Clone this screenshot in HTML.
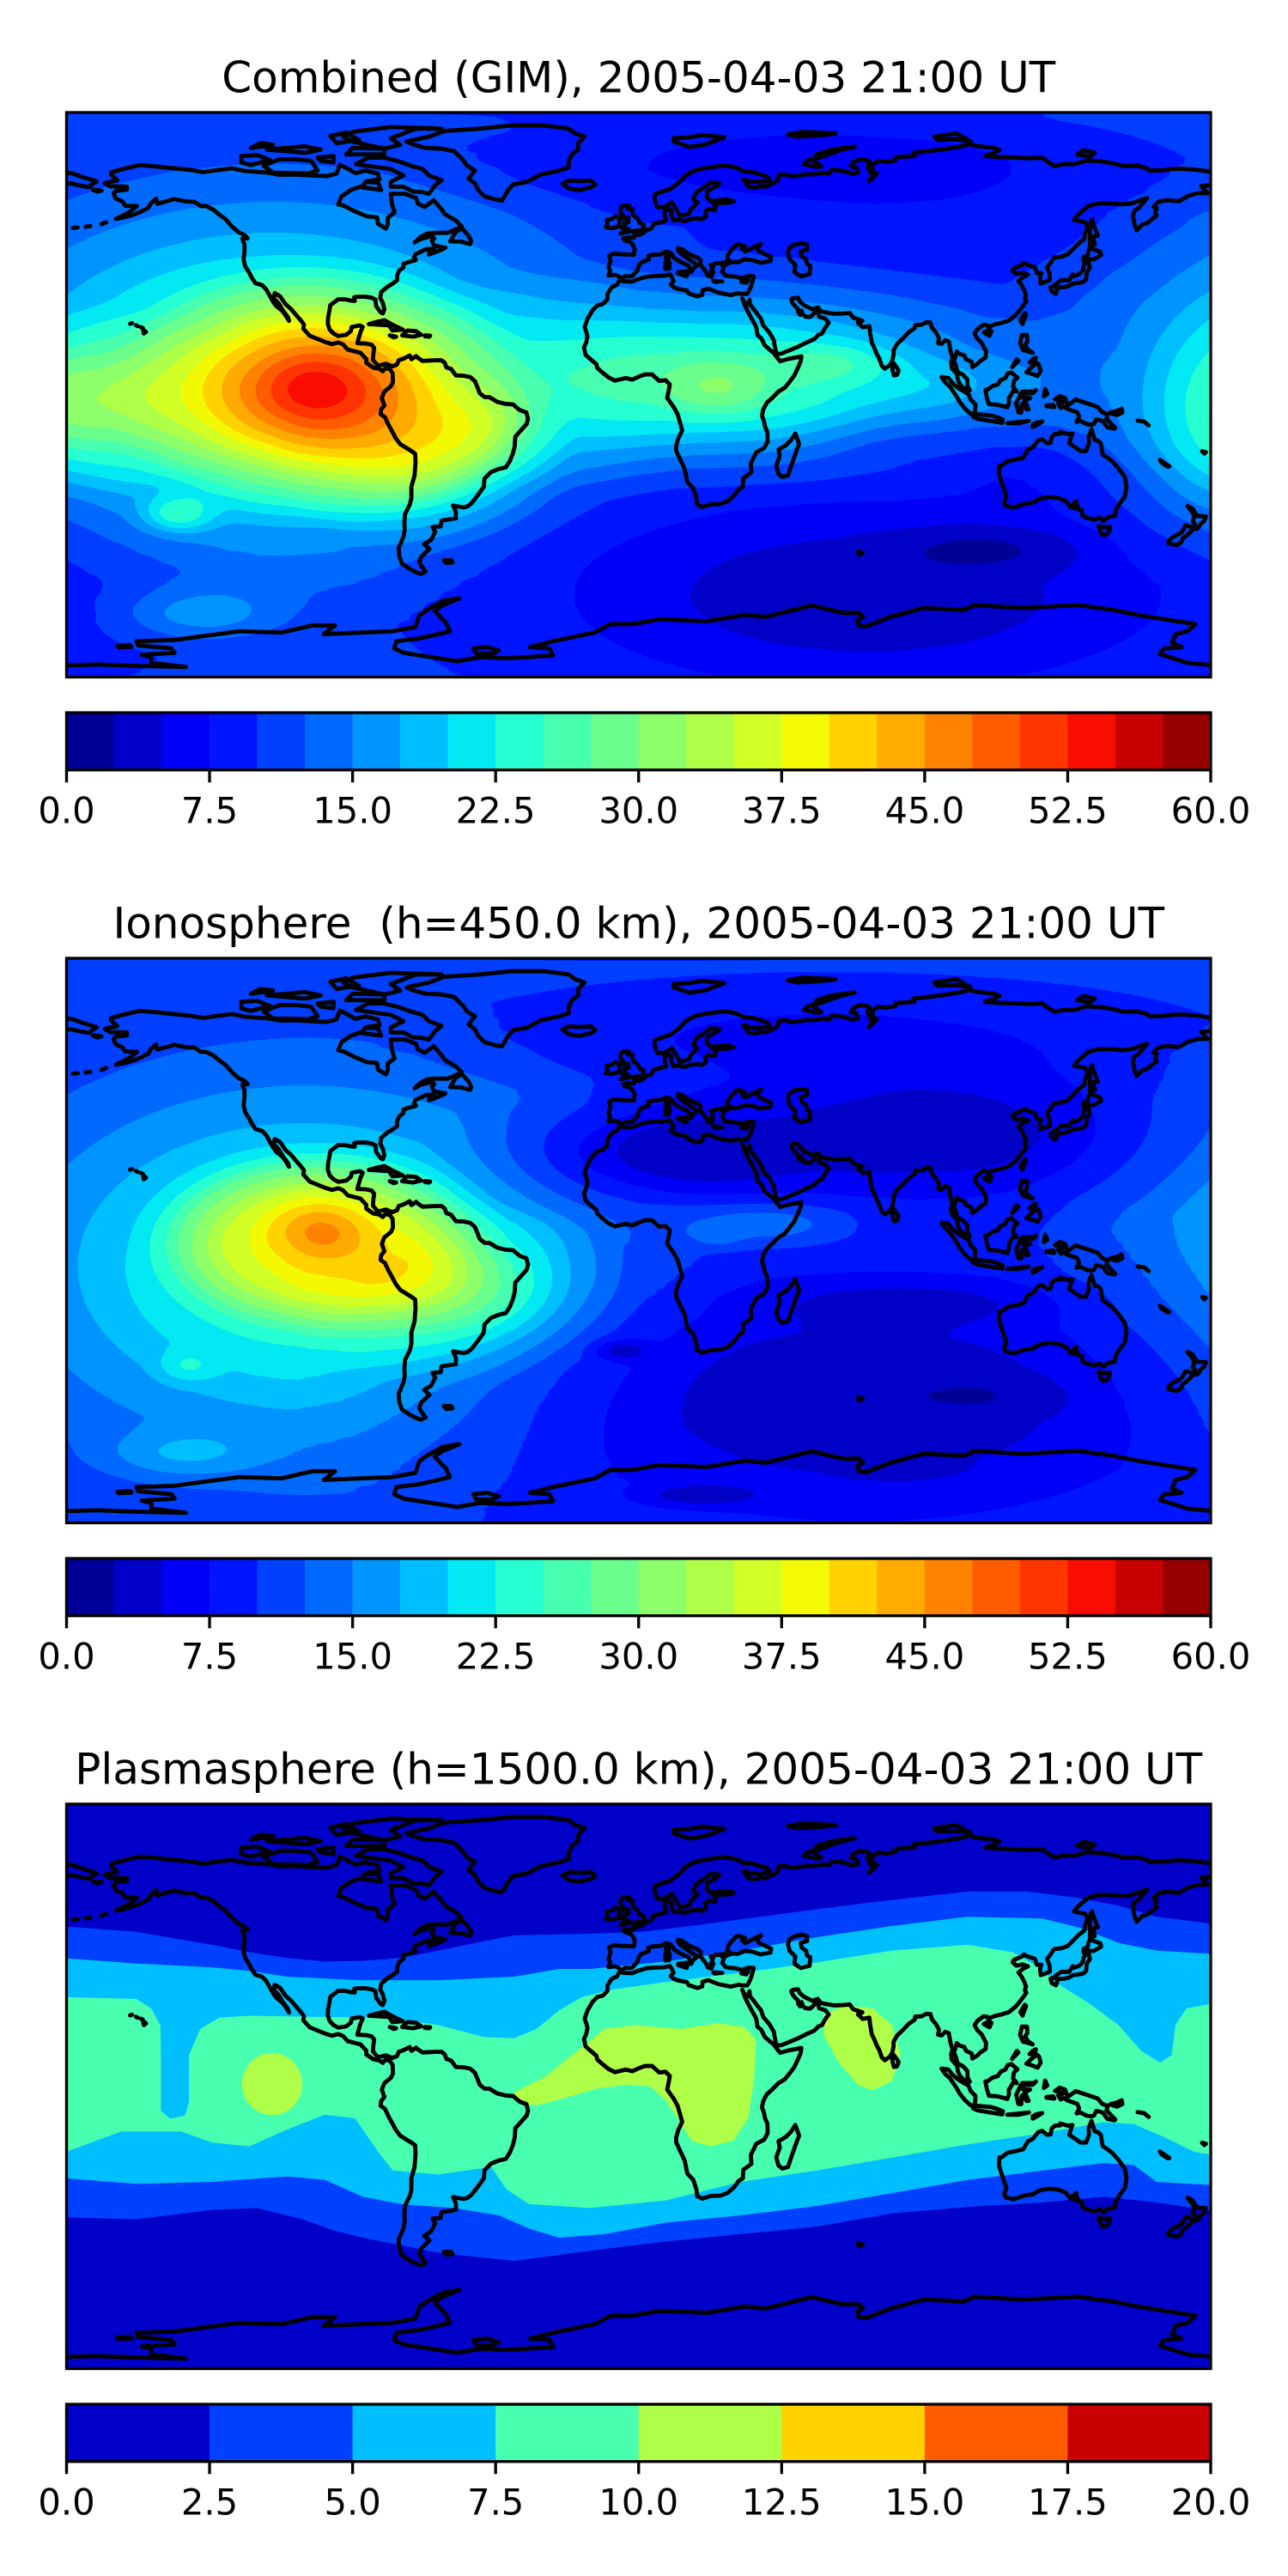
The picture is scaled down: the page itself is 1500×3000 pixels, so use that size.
<!DOCTYPE html>
<html>
<head>
<meta charset="utf-8">
<style>
html,body{margin:0;padding:0;background:#fff;}
svg{display:block;}
text{font-family:"DejaVu Sans","Liberation Sans",sans-serif;fill:#000;}
</style>
</head>
<body>
<svg width="1500" height="3000" viewBox="0 0 1500 3000" xmlns="http://www.w3.org/2000/svg" xmlns:xlink="http://www.w3.org/1999/xlink">
<defs>
<radialGradient id="gw" cx="0.5" cy="0.5" r="0.5">
<stop offset="0" stop-color="#fff" stop-opacity="1"/>
<stop offset="0.1" stop-color="#fff" stop-opacity="0.969"/>
<stop offset="0.2" stop-color="#fff" stop-opacity="0.8825"/>
<stop offset="0.3" stop-color="#fff" stop-opacity="0.7548"/>
<stop offset="0.4" stop-color="#fff" stop-opacity="0.6065"/>
<stop offset="0.5" stop-color="#fff" stop-opacity="0.4578"/>
<stop offset="0.6" stop-color="#fff" stop-opacity="0.3247"/>
<stop offset="0.7" stop-color="#fff" stop-opacity="0.2163"/>
<stop offset="0.8" stop-color="#fff" stop-opacity="0.1353"/>
<stop offset="0.9" stop-color="#fff" stop-opacity="0.05"/>
<stop offset="1" stop-color="#fff" stop-opacity="0"/>
</radialGradient>
<radialGradient id="gk" cx="0.5" cy="0.5" r="0.5">
<stop offset="0" stop-color="#000" stop-opacity="1"/>
<stop offset="0.1" stop-color="#000" stop-opacity="0.969"/>
<stop offset="0.2" stop-color="#000" stop-opacity="0.8825"/>
<stop offset="0.3" stop-color="#000" stop-opacity="0.7548"/>
<stop offset="0.4" stop-color="#000" stop-opacity="0.6065"/>
<stop offset="0.5" stop-color="#000" stop-opacity="0.4578"/>
<stop offset="0.6" stop-color="#000" stop-opacity="0.3247"/>
<stop offset="0.7" stop-color="#000" stop-opacity="0.2163"/>
<stop offset="0.8" stop-color="#000" stop-opacity="0.1353"/>
<stop offset="0.9" stop-color="#000" stop-opacity="0.05"/>
<stop offset="1" stop-color="#000" stop-opacity="0"/>
</radialGradient>
<radialGradient id="gf" cx="0.5" cy="0.5" r="0.5">
<stop offset="0" stop-color="#fff" stop-opacity="1"/>
<stop offset="0.3" stop-color="#fff" stop-opacity="0.95"/>
<stop offset="0.5" stop-color="#fff" stop-opacity="0.8"/>
<stop offset="0.7" stop-color="#fff" stop-opacity="0.45"/>
<stop offset="0.85" stop-color="#fff" stop-opacity="0.15"/>
<stop offset="1" stop-color="#fff" stop-opacity="0"/>
</radialGradient>
<filter id="jet" filterUnits="userSpaceOnUse" x="-700" y="-360" width="1400" height="720" color-interpolation-filters="sRGB">
<feGaussianBlur stdDeviation="4" edgeMode="duplicate"/>
<feComponentTransfer>
<feFuncR type="discrete" tableValues="0 0 0 0 0 0 0 0 0.0134 0.148 0.282 0.417 0.551 0.685 0.82 0.954 1 1 1 1 1 0.973 0.784 0.595"/>
<feFuncG type="discrete" tableValues="0 0 0 0.0833 0.25 0.4167 0.583 0.75 0.917 1 1 1 1 1 1 0.978 0.824 0.67 0.515 0.361 0.207 0.0525 0 0"/>
<feFuncB type="discrete" tableValues="0.595 0.784 0.973 1 1 1 1 1 0.954 0.82 0.685 0.551 0.417 0.282 0.148 0.0134 0 0 0 0 0 0 0 0"/>
</feComponentTransfer>
</filter>
<clipPath id="mclip"><rect x="-666.25" y="-328.75" width="1332.5" height="657.5"/></clipPath>

<g id="coast" fill="none" stroke="#000" stroke-width="1.3" stroke-linejoin="round" stroke-linecap="round">
<polyline points="-166,68.9 -163,69.8 -157,71.2 -152,70.8 -146,70.2 -141,69.7 -137,69 -133,69.6 -128,70.2 -124,69.4 -117,68.9 -113,68.2 -108,68.3 -103,68 -98,67.8 -95,68.6 -94,71.3 -91,69.8 -89,68.7 -86,69.5 -82,68.5 -81.5,66.8 -85.5,66.2 -87,64.7 -90.5,63.5 -93.5,61.5 -94.5,59 -93,58.7 -90,57.2 -85.5,55.3 -82.3,55 -82,53 -79.5,51.5 -78.9,53 -79,54.8 -76.8,56.5 -77.6,59 -78,62.3 -73.5,62.3 -70,61 -69.5,59.3 -67.3,58.2 -64.5,60.3 -62,57.5 -61,56 -57.5,54 -55.7,52.2 -57.5,51.3 -60,50.2 -64.5,50.2 -66.5,50 -68.5,49 -70.5,47.2 -68.5,48.3 -65,49.2 -64.3,48.5 -65,47.8 -64.8,47 -64.2,46.2 -61.5,45.7 -60.8,45.6 -62,45 -64,44.2 -66,43.5 -65.8,44.6 -64.3,45.3 -67,45.1 -68.8,44.2 -70.2,43.6 -70.7,42.5 -70,41.8 -71.5,41.4 -74,40.6 -74,39.5 -75.3,38.5 -76,37 -76,35.5 -77.5,34.4 -79,33.5 -81,31.8 -81.3,30 -80.5,28.5 -80,26.5 -80.5,25.2 -81.2,25.6 -82.6,27.5 -82.8,29.5 -84,30.1 -86,30.4 -88.5,30.4 -89.5,30.2 -89.3,29.1 -90.5,29.2 -92.5,29.6 -94.5,29.6 -97,27.8 -97.3,26 -97.7,24 -97.8,22 -97.2,20.2 -96,19 -94.5,18.2 -92,18.6 -90.5,19.8 -90.3,21 -87.8,21.5 -86.8,21 -87.5,19.5 -88,17.8 -88.5,16 -86,15.9 -84,15.5 -83.2,14.5 -83.5,12.5 -83.6,10.8 -82,9 -79.5,9.6 -77.5,8.8 -76,9.4 -75.5,10.7 -74,11.2 -72,12.2 -71.5,11 -70,12 -69.5,11.5 -68,10.5 -66,10.6 -64,10.7 -62,10.7 -61,9.9 -60.5,8.5 -59,8 -57.5,6 -55,5.9 -53,5.5 -51.5,4.2 -50.5,1.8 -50,0.5 -48.5,-0.7 -47,-0.7 -44.5,-2.2 -42,-2.8 -39.5,-3 -37.5,-4.7 -35.3,-5.5 -34.8,-7.5 -35.2,-9 -37,-11 -38.8,-13 -39,-16 -39.5,-18 -40.5,-20.5 -41.8,-22.5 -44,-23 -46.5,-24 -48.5,-26 -48.7,-28.5 -50.5,-31 -52.5,-33.5 -53.7,-34.5 -55,-34.9 -57,-34.6 -58.4,-34.3 -57.5,-36.3 -57.5,-38.3 -62,-39 -62.3,-40.8 -64.9,-41 -64,-42.5 -65.3,-45 -67.5,-46.3 -65.8,-47.8 -68.4,-50.2 -69,-51.8 -68.4,-53 -67,-54.8 -68.5,-55.5 -70,-55 -72,-54 -74.5,-52.3 -75.3,-50 -75.5,-47.5 -74,-44 -73.6,-41.8 -73.7,-39.5 -73.5,-37 -72,-34 -71.5,-32 -71.5,-28.5 -70.5,-25 -70.2,-21 -70.3,-18.3 -71.4,-17.5 -75,-15.3 -76.4,-13.5 -77.2,-12 -78.6,-9.5 -79.8,-7 -81.2,-6 -81,-4.5 -80,-3.3 -80.8,-1 -80,1 -79,1.8 -77.9,2.7 -77.3,4 -77.4,6.7 -78,7.5 -78.4,8 -79.8,8.2 -80.5,7.3 -81.7,8.1 -83.5,8.4 -85.7,9.9 -85.7,11.1 -87.5,13 -89.5,13.5 -91.5,14 -93,15.6 -94.5,16.2 -96.5,15.7 -98.5,16.3 -101,17.3 -103.5,18.3 -105.5,20.5 -105.3,21.8 -106.5,23.3 -108,25 -109.3,26.5 -111,28 -112.8,30.5 -114.5,31.5 -114.8,30 -113,28 -112.2,26.5 -110.3,24 -110,22.9 -111,24.5 -112,25.9 -114,27.5 -115,28.8 -116.5,31.5 -117.2,32.7 -118.5,34 -120.6,34.6 -121.9,36.6 -122.5,37.8 -123.8,39.8 -124.3,42 -124,44.5 -124,46.5 -124.7,48.4 -123,48.5 -124,49.5 -126,50.5 -127.8,52 -130,54.5 -131.5,55.5 -133.7,57.3 -136,58.5 -137.8,58.5 -139.7,59.8 -143,60 -146,60.7 -148.5,60 -151.5,59.2 -151.8,60.8 -153.5,59.3 -154.2,58 -156.5,56.8 -159,55.8 -162,55 -164.5,54.5 -162,55.7 -160,56.8 -157.8,58.5 -161.5,58.6 -162.5,60 -164.5,60.8 -165.2,62.5 -164.5,63.2 -161,63.6 -161,64.5 -163.8,64.6 -166.3,64.6 -168,65.6 -164,66.5 -166,68.3 -166,68.9"/>
<polyline points="-73,78.5 -66,80 -61,81.8 -50,82.5 -40,83.5 -30,83.5 -22,82.5 -20,81 -17,80 -19,78 -19,76 -21,74.5 -22,72.5 -22,70.5 -25,69.5 -31,68.2 -35,66 -39.5,65.2 -41,63.5 -43,60.2 -45,60.5 -48.5,61.5 -50.5,63.5 -51.5,65.5 -53.5,67 -51.5,69.5 -54,71 -55,72.5 -58,75.5 -62,76.3 -67,76.5 -71,77.6 -73,78.5"/>
<polyline points="-62,66.5 -64,65 -66,62.3 -68,62.8 -71,63 -74,64.5 -78,64.5 -78,66 -74,68 -78,70 -82,70.5 -89,71.5 -85,73.5 -80,73.5 -76,72.5 -71,70.8 -68,70 -66,68 -62,66.5"/>
<polyline points="-118,71 -115,68.8 -110,68.8 -104,68.6 -101,69.5 -103,72.5 -108,73 -113,73 -118,71"/>
<polyline points="-125,72 -122,71.2 -116,72.8 -120,74.3 -125,74 -125,72"/>
<polyline points="-90,78.5 -80,76.3 -75,77.5 -78,79.5 -70,82.5 -62,82.5 -78,83 -90,81.5 -93,80 -90,78.5"/>
<polyline points="-92,74.5 -80,74.5 -80,76.3 -90,76.5 -92,74.5"/>
<polyline points="-100,72.5 -96,72 -96,74 -101,73.5 -100,72.5"/>
<polyline points="-117,76 -105,75 -100,76 -105,77 -117,76"/>
<polyline points="-95,78 -88,79 -92,81.3 -97,80.2 -95,78"/>
<polyline points="-87,64.3 -81,63.5 -82,65.8 -86,66 -87,64.3"/>
<polyline points="-122,76.5 -115,77.5 -119,78 -122,76.5"/>
<polyline points="-59.3,47.6 -56,47.5 -53,46.7 -52.7,47.7 -53.5,49.3 -55.6,51.6 -57.5,50.5 -59.3,47.6"/>
<polyline points="-84.9,21.9 -82,22.7 -80,23.1 -77,21.5 -74.2,20.2 -77.5,19.9 -78.5,21.5 -81.5,21.7 -84.9,21.9"/>
<polyline points="-74.4,18.4 -72.8,19.9 -70,19.7 -68.4,18.6 -71,18 -74.4,18.4"/>
<polyline points="-78.3,18.4 -76.3,18 -77.1,17.8 -78.3,18.4"/>
<polyline points="-67.2,18.4 -65.6,18.3 -65.9,18 -67.2,18.1"/>
<polyline points="-160,22 -159.4,22.2"/>
<polyline points="-158.2,21.6 -157.7,21.3"/>
<polyline points="-156.7,21 -156,20.7"/>
<polyline points="-155.9,20.2 -155,19.5 -155.7,19 -155.9,20.2"/>
<polyline points="-178,51.7 -176.5,51.9"/>
<polyline points="-174,52.1 -172.5,52.3"/>
<polyline points="-169,52.9 -167.5,53.5"/>
<polyline points="-171.8,63.6 -169,63.3 -170.5,63 -171.8,63.6"/>
<polyline points="-181,69 -178,68.6 -175,67.5 -172,66.6 -170.5,66.1 -172,65.2 -173,64.4 -175.5,64.8 -178.5,65.5 -181,65.3"/>
<polyline points="-61.3,-51.3 -59,-51.3 -58.5,-52 -60.5,-52.2 -61.3,-51.3"/>
<polyline points="-9.5,37 -8.9,38.5 -9.5,39.5 -8.8,41.5 -9.3,43 -8,43.7 -4,43.5 -1.5,43.4 -1.2,45 -1.8,46.5 -2.5,47.3 -4.5,47.9 -4.8,48.5 -3,48.8 -1.5,48.7 -1.3,49.7 0.2,49.5 1.6,50.2 2.5,51.1 4,51.5 4.8,53 7,53.5 8.7,54 8.2,55.5 8.2,57 10,57.6 10.5,56.5 10.2,55.8 10.8,54.6 11,54 12.5,54.3 14.3,53.8 16.5,54.5 18.5,54.7 19.8,54.4 21.2,55.2 21,56.8 22,57.6 24,57.2 24.3,58.4 23.5,59.3 28,59.5 30,60 28,60.5 26,60.4 22.8,60 21.5,61 21.5,63 25,65 25.4,65.6 22.5,65.8 21,64.5 18.5,63 17.5,61.5 17.2,60.6 18.5,59.6 16.5,57.5 15.8,56.1 13,55.4 12.5,56.3 11.8,57.6 11,58.9 10.5,59.6 9.5,59 8,58.2 6,58.1 5.5,59 5,61 5.2,62.2 7,62.8 10,63.8 11.5,64.9 13,66 14.5,67.7 16,68.7 18,69.6 20,70.1 23.5,70.6 26,71 28.5,70.9 31,70.3 33,69.3 36,69 40.5,67.6 41.3,66.4 38,66 35,66.1 33,66.8 34.5,64.5 37,64.2 38,64.7 40,64.5 43.5,66.2 44.2,68.2 46,68.3 48.5,67.7 53,68.4 55,68.3 58,68.8 60,68.6 60.8,69.8 65,69.3 67,68.5 69,68.9 68.5,70.5 66.8,70.8 67.5,72 69.2,72.9 71.5,72.8 72.8,72.2 72,71 72.8,69 73.6,68.4 73,67 72.5,66.2 74,67.6 75,68.7 73.8,69.1 73.5,71.3 75.5,72.5 78,72.2 80.8,72.7 81,73.6 86.8,74 86.5,75 91,75.5 96,76.1 101,76.9 104,77.7 107,77 111.5,76.6 113.5,75.9 112,75 109,74 113,73.7 118.5,73.5 123,73.3 127,73.5 129,72 131,70.9 133.5,71.5 137,71.5 141,72.6 146,72.3 150,71.6 152.5,70.9 157,71 160,70.2 160.8,69.5 165,69.6 168,70 170.5,70.1 175,69.8 178,69.4 181,69"/>
<polyline points="181,65.3 178.5,64.8 177,64.7 179,62.5 176,62.5 173,61.7 170,60 166,60.3 163.5,59.8 162,58.3 163,57.8 162.5,56.5 163,55.5 161.8,54.7 160,53.2 158.5,52.8 156.7,51 156,53 155.5,55.5 156,57 157.5,58 160,61 155,59.3 152,59 149,59.3 144.5,59.3 141.5,58.5 138.5,56 137,54.2 140.5,53.5 141.3,52 140.5,50 140.2,48.3 138.5,47 136.5,45 135,43.5 133,42.8 131,42.6 130.5,42.3 129.7,41 128.5,39.5 129.3,37.5 129.4,35.6 128,35 126.5,34.5 126.3,36.5 126.7,37.7 125.3,37.7 124.7,39.5 122,40.4 121.2,40.9 120.5,40.2 119.5,39.8 118,39.1 117.7,38.4 118.9,37.4 120.8,37.8 122.5,37.2 121,36.5 119.5,35.3 120.3,34.3 121.3,32.5 121.9,30.9 121.5,29.9 122,29 120.5,27 119.5,25.7 118.5,24.6 116.5,23 114.2,22.3 112,21.8 110.5,21.2 110.2,20.3 109.8,21.5 108.5,21.7 106.6,20.3 105.7,19 106.5,17.5 108,16 109.3,13.5 109.2,11.6 107.5,10.5 106.5,9.5 105,8.6 104.8,10.2 103,11 102.5,12.2 100.9,12.7 100.1,13.4 99.2,10.3 99.8,9.2 100.3,7.2 101,6.8 102.1,6.2 103.4,4.8 103.5,2.7 104.2,1.4 103.5,1.3 102,2.3 101,3.4 100.4,4.8 100.2,6.4 98.5,8.3 98.3,10 98.8,11.5 98.2,13.2 97.6,16.5 96.5,16.9 95.3,15.8 94.2,16 94.5,17.6 93.5,19.4 92.3,20.7 91.8,22.4 90.5,22.5 89,21.7 87,21.6 86.9,20.7 85,19.4 83.3,17.6 82.2,16.6 81.2,15.6 80.2,13.8 80.2,12.4 79.8,10.4 79,9.2 77.5,8.1 76.5,9 75.7,11.3 74.9,12.7 74.1,14.7 73.4,16 72.8,19.3 72.6,21.3 72,21.2 70.5,20.9 69,22.3 70.4,22.9 68.8,23.5 67.5,23.9 66.4,25.4 64.5,25.2 61.5,25.1 58.5,25.6 57.3,25.9 56.4,27.1 54.7,26.5 52,27.8 50.8,28.8 50.1,30.1 48.5,29.9 48,29.5 48.4,28.5 49.3,27.4 50.1,26.7 50.2,25.6 50.8,24.8 51.3,26.1 51.6,25 52.5,24.2 54,24.1 55.4,25.4 56.3,26.2 56.8,24.2 58.7,23.6 59.8,22.3 58.5,20.5 57.7,19 56.6,18.6 55.3,17.3 52.2,15.9 49.5,14.6 48,14 45,12.8 43.4,12.6 42.7,15.7 42.6,16.8 41.2,19.2 39.2,21.5 38.5,23.6 37.5,24.8 36,26.8 35,28 34.9,29.5 34.2,27.8 33.5,28.3 32.6,29.9 33.5,27.5 34.5,25.5 35.6,23.5 37,21 37.4,18.5 38.6,17.5 39.7,15.3 41.2,14 42.5,13 43.3,11.9 44.5,10.4 47,11.1 51.2,11.9 51,10.4 50.5,9.2 49,6 47.5,4 46,2.2 44,1 42,-1 40.3,-2.5 39.2,-4.6 38.8,-6.5 39.4,-8 39.8,-10 40.5,-11.5 40.6,-14.5 39.5,-16.5 37,-17.8 35.3,-21.3 35.5,-24 32.9,-25.9 32.8,-28.5 31.5,-29.3 30,-31.3 28,-33 25.6,-33.9 22.5,-34 20,-34.8 18.4,-34 18.2,-32 17.2,-29 15.3,-27 14.5,-23 13.3,-20.5 11.8,-17.3 11.8,-15.8 12.5,-13.5 13.7,-11 12.3,-6.1 11.1,-3.9 9,-1 9.6,2 9.8,3.2 8.5,4.5 6.5,4.3 5,5.6 4.3,6.3 2,6.3 0,5.6 -2,4.7 -4,5.2 -7.5,4.4 -9.5,5.4 -11.4,6.9 -13,8.3 -13.3,9.5 -15,10.9 -16.7,12.4 -17.2,14.7 -16.5,16.2 -16.1,18.1 -16.5,19.6 -17,21 -16,23.7 -14.5,26.2 -13,27.7 -11.3,28.1 -9.8,29.6 -9.8,31.3 -8.5,33.3 -6.8,34.1 -5.9,35.8 -5,35.2 -2,35.1 0,35.9 2.5,36.6 5,36.8 8,36.9 9.8,37.3 10.3,36.7 11,35.2 10.1,34.2 11.1,33.3 12.5,32.8 15.2,32.3 15.7,31.4 18.5,30.5 20,31 20.1,32.4 22,32.9 25,31.7 29,30.9 31.5,31.5 32.3,31.3 34.2,31.3 35,32.8 35.6,34.3 35.9,35.5 36.2,36.7 34.6,36.8 32.5,36.1 30.5,36.6 29,36.7 27.3,37 26.3,38.3 26.8,39.5 26.2,40.3 27.5,40.4 29,41.1 31.2,41.1 33.5,42 36,41.7 38.3,40.9 41.5,41.5 41.7,42.7 38,44.4 37.3,45.3 38.5,46.8 35.5,45.4 33.6,44.4 32.5,45.3 33.5,46 31.7,46.6 30.7,46.5 29.6,45.3 28.7,44.3 28,43 28,41.9 28.9,41.3 26.3,40.9 24,40.7 23.5,40 22.6,40.3 23.3,39.2 22.7,38 23.5,38 22.9,36.5 21.7,36.9 21.1,38.3 19.4,40.3 19.5,41.8 18.5,42.5 16,43.5 15,44.2 13.7,45.1 12.3,45.4 12.5,44.5 13.6,43.5 16,41.9 18.5,40.2 17,39 16.6,38 15.7,38 16.2,39 15.6,40.1 14,40.8 12.6,41.5 11.2,42.4 10.2,43.9 8.7,44.4 6.9,43.5 4.5,43.4 3,43 3.2,41.9 0.8,41 0,39.9 -0.4,38.5 -1.4,37.5 -2.1,36.7 -4.4,36.7 -5.4,36 -6.4,36.8 -7.4,37.2 -8.9,37 -9.5,37"/>
<polyline points="49,46.5 51.5,47 53,46.5 53,45 51,44.5 51.3,43 52.7,42 53,40.5 54,40 53.8,37.4 51,36.7 49,38 49.3,40.3 47.5,42 47,44 47.5,45.6 49,46.5"/>
<polyline points="-5.7,50 -3,50.6 1.3,51.1 1.7,52.7 0.3,53.3 -0.2,54.5 -1.6,55.6 -2.1,57.1 -1.8,57.6 -3.5,57.7 -3,58.6 -5,58.6 -5.7,57.5 -5.6,56.3 -4.8,55.4 -5,54.7 -3.2,54.9 -3.2,53.5 -4.6,53.3 -4.1,52.8 -5.2,51.8 -3.2,51.4 -5.7,50"/>
<polyline points="-6,52.2 -6.1,54 -5.6,54.7 -7.3,55.3 -8.5,54.5 -10,54.2 -9.8,53 -10.3,51.9 -8.5,51.6 -6.4,52.2 -6,52.2"/>
<polyline points="-22,64 -24,65.4 -22,66.4 -18,66.2 -15,66.4 -13.6,65.2 -15,64.3 -18.7,63.4 -22,64"/>
<polyline points="11,78.5 16,76.8 21,77.6 27,79.8 20,80.5 16,79.8 11,79.5 11,78.5"/>
<polyline points="52,71.5 56,70.6 57.5,70.8 55,72.5 56,74.5 61,76 68,76.9 63,75.7 57,73.5 53.5,72.8 52,71.5"/>
<polyline points="50,80 58,80.5 62,81 52,81.5 47,80.7 50,80"/>
<polyline points="94,79 100,79.2 104.5,78.5 100,81 93,80 94,79"/>
<polyline points="138,74.5 142,73.8 143.5,75 140,75.8 138,74.5"/>
<polyline points="12.4,38 15.6,38.3 15.1,36.7 12.4,37.6 12.4,38"/>
<polyline points="8.4,41 9.8,40.9 9.6,39.1 8.4,39 8.4,41"/>
<polyline points="8.6,42.9 9.5,42.9 9.4,41.4 8.6,42 8.6,42.9"/>
<polyline points="23.5,35.3 26.3,35.2 24,35 23.5,35.3"/>
<polyline points="32.3,35 34.5,35.6 33.9,34.7 32.3,35"/>
<polyline points="79.8,8.1 80.2,9.8 81.2,8.5 81.8,7.5 81.3,6.2 80.3,6 79.8,8.1"/>
<polyline points="130.9,33.9 132,33.3 134,33.4 135.3,33.7 136.8,34.5 138.5,34.7 139.9,35 140.8,35.8 141,38 142,39.5 141.5,41.4 140.8,41 140,40 139.9,39 139.4,38.1 138.5,37.3 137,36.8 136.6,37.3 135.5,35.5 133,35.5 131.5,34.5 130.9,33.9"/>
<polyline points="130,32 131.3,31.3 131.8,32.8 131,33.9 129.6,33.3 130,32"/>
<polyline points="140,41.5 141.1,41.9 143.2,42 145.5,43.3 145.3,44.3 142,45.5 141.5,44.5 141.3,43.1 140,42.7 140,41.5"/>
<polyline points="142,46 143.5,46.6 143,49 144.5,49.3 143,53 142.7,54.3 142.2,53.5 142,51 142,46"/>
<polyline points="120.1,23 120.8,21.9 121.9,24.9 121.5,25.3 120.1,23"/>
<polyline points="108.6,19.3 110.4,18.3 111,19.7 110.1,20.1 108.6,19.3"/>
<polyline points="120,16 120.6,18.5 122.2,18.5 122.3,16.5 121.6,15.5 122.5,14 124,13 122.5,13.5 121,13.8 120.6,14.5 120,16"/>
<polyline points="122,7 124.3,6.3 125.5,5.8 126.5,7.3 126,9.2 125.4,9.8 123.6,8.5 122,7"/>
<polyline points="123,10 124,11 125,11.5 124.5,10 123,10"/>
<polyline points="117.5,8.5 119.5,10.5 119,11 117.5,8.5"/>
<polyline points="109.6,-1 110.2,-2.9 111.7,-3 113,-3.1 114.5,-3.5 116,-3.9 116.5,-2.5 116.5,-1 117.5,0.5 117.9,1.3 119,1 117.8,2.5 118.1,4.3 119.2,5.3 117.3,6.9 116.1,6.6 115.4,5.2 114,4.6 113,3.2 111.3,2.7 110,1.7 109.1,1.5 109.6,-1"/>
<polyline points="95.3,5.5 97.5,5.2 98.6,3.8 100,2.5 101,1.8 103.8,0.2 104.5,-1.5 106,-3 105.8,-5.8 104.5,-5.9 102.6,-4.2 101,-2.2 100.1,-0.6 99,1 98,2.5 96.5,3.8 95.3,5.5"/>
<polyline points="105.2,-6.8 106.5,-6 108.3,-6.2 110.8,-6.4 112.6,-6.9 114.6,-7.7 114.4,-8.7 112,-8.3 110,-8 106.5,-7.4 105.2,-6.8"/>
<polyline points="119.5,-5.5 120.4,-5.5 120.5,-3 121,-2.6 122,-4.5 122.7,-4.5 121.5,-1.9 123.2,-1 121,-1 120.7,1 122,1 124.5,1 125,1.5 124,0.5 120.2,0.3 119.7,-0.8 118.8,-2.6 119.5,-5.5"/>
<polyline points="124,-9.3 125,-8.7 127,-8.3 125.5,-9.2 124,-10 124,-9.3"/>
<polyline points="116,-8.8 119,-8.5 122.8,-8.1 119.5,-8.8 116,-8.8"/>
<polyline points="131,-1.4 132.5,-0.4 134.2,-1 135,-3.3 137.5,-1.5 141,-2.6 144.5,-3.8 145.8,-5.4 147.6,-6.1 147.2,-7.4 148.7,-9 150,-10.3 149.7,-10.5 147.5,-10.1 146,-8.1 144,-7.6 143.3,-9 142.6,-9.3 141,-9.1 139,-8.1 137.8,-8.4 138.6,-6.8 138,-5.4 135,-4.4 133.7,-3.6 132.8,-4.1 132,-2.8 133.6,-2.2 131.8,-1.6 131,-1.4"/>
<polyline points="127.9,1.8 128.6,0.3 127.5,-0.5 127.9,1.8"/>
<polyline points="128.3,-3.3 130.5,-3.1 130.8,-3.8 128.3,-3.5"/>
<polyline points="148.3,-5.6 150.5,-5 152,-4.3 152.2,-5.5 150.5,-6.3 148.3,-5.6"/>
<polyline points="157,-8 159,-8.3 160.5,-9.5"/>
<polyline points="113.5,-22 114.2,-22 116,-20.6 119,-20 121,-19.5 122.5,-17 124,-16.3 125.7,-14.2 127,-13.8 128.5,-15 129.6,-14.9 130,-13 131,-12.2 132.6,-12.1 132.6,-11.5 135,-12.2 136.5,-12 136,-13.3 135.5,-15 137,-16 139,-17.4 140.8,-17.4 141.7,-15 141.6,-12.9 142.5,-10.7 143.5,-14 144.5,-14.2 145.4,-15 146,-18.5 147.5,-19.5 149,-20.6 150.8,-22.6 153,-25.5 153.5,-28.5 153,-31.5 151.5,-33.5 150.2,-35.5 149.9,-37.5 147.5,-38 146.3,-39.1 145,-38 143.5,-38.8 141,-38.1 139.6,-37.4 139.5,-35.8 138.5,-35.6 138,-34.4 137.5,-35.1 136.8,-35.2 137.8,-33 137,-33.6 135.8,-34.8 134.5,-33 132,-32 129,-31.7 126,-32.3 124,-33.5 121.5,-33.8 118,-35 115.5,-34.4 115,-33.5 115.7,-31.5 115,-29.5 114,-26.5 113.4,-24.5 113.5,-22"/>
<polyline points="144.7,-40.7 146.5,-41.1 148.3,-40.9 148.2,-42 147.3,-43.3 146,-43.5 145.2,-42.2 144.7,-40.7"/>
<polyline points="172.7,-34.5 174.3,-35.3 175.3,-37 176,-37.6 178.5,-37.7 177.9,-39.2 177,-39.8 176,-41.3 175.2,-41.6 174.6,-41.2 175.1,-40 174.3,-39.3 174.8,-38 174.5,-36.8 172.7,-34.5"/>
<polyline points="172.7,-40.5 174.3,-41.3 173.9,-42.3 172.7,-43.4 171.2,-44.5 170.6,-45.9 169.3,-46.6 166.6,-46 167,-45 168.3,-44 170.5,-42.9 171.5,-41.7 172,-40.6 172.7,-40.5"/>
<polyline points="164,-20.2 167,-22.2 166.5,-22.3 164.5,-21 164,-20.2"/>
<polyline points="177.3,-17.5 178.5,-17.8 178,-18.2 177.3,-17.5"/>
<polyline points="49.3,-12 50.5,-15.3 49.8,-17 48,-22 47,-25 45.2,-25.5 44,-24.5 43.3,-22 44.4,-19 44,-17 46.3,-15.7 48,-14 49.3,-12"/>
<polyline points="69,-48.7 70.5,-49 69.5,-49.6 69,-48.7"/>
<polyline points="-181,-83.9 -170,-83.6 -160,-84 -142.4,-84.4 -153.3,-83.1 -153.3,-81.3 -156.3,-80.6 -146,-80 -147,-78.6 -157.5,-77.7 -158,-76.4 -146,-76 -125.6,-73.3 -112.3,-73.7 -102.7,-71.5 -95.5,-71.5 -99.1,-74.2 -77.4,-73.3 -70.2,-72 -69,-68.4 -66.6,-66.7 -61.8,-64 -56.4,-63.1 -61.8,-65.3 -64.2,-67 -60.6,-70.7 -59.4,-73.3 -63,-74.2 -69,-75.5 -76.2,-76.4 -76.9,-78.6 -73.9,-80 -57,-82.6 -49.8,-81.3 -41.4,-81.7 -26.9,-80.8 -28.1,-78.6 -34.2,-78.2 -26.9,-76.4 -13.7,-73.7 -8.9,-71.1 -2.1,-71.1 6.5,-69.6 21.3,-70.2 33.6,-68.2 39.7,-68.9 54.5,-65.3 58.2,-66.2 64.3,-67.6 69.3,-67.6 70.6,-68.9 68.8,-69.8 69.3,-71.5 71.7,-71.8 79.1,-68.9 89.6,-66.1 102.5,-66.7 105.6,-65.2 121,-66.1 138.2,-65.2 149.3,-66.7 157.9,-68.4 175.2,-71.1 172.7,-73.3 169,-74.2 167.8,-76.9 170.8,-78.2 165.3,-78.7 164,-80.4 172.7,-83.1 181,-83.9"/>
<polyline points="-52,-78.6 -47.5,-78.2 -44,-79.3 -46,-80.2 -51,-80.3 -52,-78.6"/>
<polyline points="-164,-77.9 -160,-77.6 -159.5,-78.1 -163.5,-78.3 -164,-77.9"/>
</g>

<g id="cb24">
<rect x="77.5" y="0" width="55.8" height="66.7" fill="#000098"/>
<rect x="133.02" y="0" width="55.8" height="66.7" fill="#0000c8"/>
<rect x="188.54" y="0" width="55.8" height="66.7" fill="#0000f8"/>
<rect x="244.06" y="0" width="55.8" height="66.7" fill="#0015ff"/>
<rect x="299.58" y="0" width="55.8" height="66.7" fill="#0040ff"/>
<rect x="355.1" y="0" width="55.8" height="66.7" fill="#006aff"/>
<rect x="410.63" y="0" width="55.8" height="66.7" fill="#0095ff"/>
<rect x="466.15" y="0" width="55.8" height="66.7" fill="#00bfff"/>
<rect x="521.67" y="0" width="55.8" height="66.7" fill="#03eaf3"/>
<rect x="577.19" y="0" width="55.8" height="66.7" fill="#26ffd1"/>
<rect x="632.71" y="0" width="55.8" height="66.7" fill="#48ffaf"/>
<rect x="688.23" y="0" width="55.8" height="66.7" fill="#6aff8d"/>
<rect x="743.75" y="0" width="55.8" height="66.7" fill="#8dff6a"/>
<rect x="799.27" y="0" width="55.8" height="66.7" fill="#afff48"/>
<rect x="854.79" y="0" width="55.8" height="66.7" fill="#d1ff26"/>
<rect x="910.31" y="0" width="55.8" height="66.7" fill="#f3fa03"/>
<rect x="965.83" y="0" width="55.8" height="66.7" fill="#ffd200"/>
<rect x="1021.35" y="0" width="55.8" height="66.7" fill="#ffab00"/>
<rect x="1076.88" y="0" width="55.8" height="66.7" fill="#ff8300"/>
<rect x="1132.4" y="0" width="55.8" height="66.7" fill="#ff5c00"/>
<rect x="1187.92" y="0" width="55.8" height="66.7" fill="#ff3500"/>
<rect x="1243.44" y="0" width="55.8" height="66.7" fill="#f80d00"/>
<rect x="1298.96" y="0" width="55.8" height="66.7" fill="#c80000"/>
<rect x="1354.48" y="0" width="55.52" height="66.7" fill="#980000"/>
<rect x="77.5" y="0" width="1332.5" height="66.7" fill="none" stroke="#000" stroke-width="3.33"/>
<path d="M77.5,66.7v14.6M244.06,66.7v14.6M410.63,66.7v14.6M577.19,66.7v14.6M743.75,66.7v14.6M910.31,66.7v14.6M1076.88,66.7v14.6M1243.44,66.7v14.6M1410,66.7v14.6" stroke="#000" stroke-width="3.33"/>
</g>
<g id="cb8">
<rect x="77.5" y="0" width="166.8" height="66.7" fill="#0000c8"/>
<rect x="244.06" y="0" width="166.8" height="66.7" fill="#0040ff"/>
<rect x="410.63" y="0" width="166.8" height="66.7" fill="#00bfff"/>
<rect x="577.19" y="0" width="166.8" height="66.7" fill="#48ffaf"/>
<rect x="743.75" y="0" width="166.8" height="66.7" fill="#afff48"/>
<rect x="910.31" y="0" width="166.8" height="66.7" fill="#ffd200"/>
<rect x="1076.88" y="0" width="166.8" height="66.7" fill="#ff5c00"/>
<rect x="1243.44" y="0" width="166.56" height="66.7" fill="#c80000"/>
<rect x="77.5" y="0" width="1332.5" height="66.7" fill="none" stroke="#000" stroke-width="3.33"/>
<path d="M77.5,66.7v14.6M244.06,66.7v14.6M410.63,66.7v14.6M577.19,66.7v14.6M743.75,66.7v14.6M910.31,66.7v14.6M1076.88,66.7v14.6M1243.44,66.7v14.6M1410,66.7v14.6" stroke="#000" stroke-width="3.33"/>
</g>
</defs>

<rect x="0" y="0" width="1500" height="3000" fill="#fff"/>

<!-- ================= PANEL 1 ================= -->
<text x="743.75" y="107.5" font-size="50" text-anchor="middle">Combined (GIM), 2005-04-03 21:00 UT</text>
<g transform="translate(743.75,459.75)">
<g clip-path="url(#mclip)">
<g filter="url(#jet)">
<g transform="scale(3.7014,-3.757)">
<rect x="-190" y="-95" width="380" height="190" fill="#2d2d2d"/>
<ellipse cx="-115" cy="5" rx="140" ry="80" fill="url(#gw)" fill-opacity="0.38"/>
<ellipse cx="245" cy="5" rx="140" ry="80" fill="url(#gw)" fill-opacity="0.38"/>
<ellipse cx="-180" cy="-2" rx="70" ry="32" fill="url(#gw)" fill-opacity="0.3"/>
<ellipse cx="-100" cy="1" rx="70" ry="43" fill="url(#gw)" fill-opacity="0.76"/>
<ellipse cx="-102" cy="2" rx="20" ry="12" fill="url(#gw)" fill-opacity="0.35"/>
<ellipse cx="-68" cy="-20" rx="50" ry="30" fill="url(#gw)" fill-opacity="0.3"/>
<ellipse cx="-48" cy="-10" rx="30" ry="22" fill="url(#gw)" fill-opacity="0.18"/>
<ellipse cx="25" cy="5" rx="130" ry="40" fill="url(#gw)" fill-opacity="0.33"/>
<ellipse cx="25" cy="2" rx="25" ry="14" fill="url(#gw)" fill-opacity="0.12"/>
<ellipse cx="62" cy="10" rx="30" ry="10" fill="url(#gw)" fill-opacity="0.1"/>
<ellipse cx="98" cy="3" rx="35" ry="14" fill="url(#gw)" fill-opacity="0.06"/>
<ellipse cx="185" cy="-8" rx="38" ry="45" fill="url(#gw)" fill-opacity="0.15"/>
<ellipse cx="-145" cy="-37" rx="18" ry="9" fill="url(#gw)" fill-opacity="0.2"/>
<ellipse cx="-140" cy="-68" rx="45" ry="14" fill="url(#gw)" fill-opacity="0.13"/>
<ellipse cx="0" cy="97" rx="220" ry="16" fill="url(#gk)" fill-opacity="0.25"/>
<ellipse cx="54" cy="72" rx="140" ry="22" fill="url(#gk)" fill-opacity="0.45"/>
<ellipse cx="90" cy="55" rx="120" ry="35" fill="url(#gk)" fill-opacity="0.2"/>
<ellipse cx="125" cy="-25" rx="50" ry="25" fill="url(#gk)" fill-opacity="0.2"/>
<ellipse cx="80" cy="-15" rx="40" ry="15" fill="url(#gk)" fill-opacity="0.15"/>
<ellipse cx="72" cy="-62" rx="175" ry="55" fill="url(#gk)" fill-opacity="0.72"/>
<ellipse cx="-288" cy="-62" rx="175" ry="55" fill="url(#gk)" fill-opacity="0.72"/>
<ellipse cx="108" cy="-48" rx="50" ry="12" fill="url(#gk)" fill-opacity="0.7"/>
</g>
</g>
<g transform="scale(3.7014,-3.757)"><use xlink:href="#coast" href="#coast"/></g>
</g>
</g>
<rect x="77.5" y="131" width="1332.5" height="657.5" fill="none" stroke="#000" stroke-width="3.33"/>
<use xlink:href="#cb24" href="#cb24" x="0" y="830"/>
<g font-size="41.67" text-anchor="middle">
<text x="77.5" y="958.5">0.0</text><text x="244.06" y="958.5">7.5</text><text x="410.63" y="958.5">15.0</text><text x="577.19" y="958.5">22.5</text><text x="743.75" y="958.5">30.0</text><text x="910.31" y="958.5">37.5</text><text x="1076.88" y="958.5">45.0</text><text x="1243.44" y="958.5">52.5</text><text x="1410" y="958.5">60.0</text>
</g>

<!-- ================= PANEL 2 ================= -->
<text x="743.75" y="1092.5" font-size="50" text-anchor="middle">Ionosphere&#160; (h=450.0 km), 2005-04-03 21:00 UT</text>
<g transform="translate(743.75,1444.75)">
<g clip-path="url(#mclip)">
<g filter="url(#jet)">
<g transform="scale(3.7014,-3.757)">
<rect x="-190" y="-95" width="380" height="190" fill="#2c2c2c"/>
<ellipse cx="-105" cy="-8" rx="145" ry="90" fill="url(#gw)" fill-opacity="0.31"/>
<ellipse cx="255" cy="-8" rx="145" ry="90" fill="url(#gw)" fill-opacity="0.31"/>
<ellipse cx="-100" cy="0" rx="60" ry="32" fill="url(#gf)" fill-opacity="0.4"/>
<ellipse cx="-100" cy="3" rx="25" ry="15" fill="url(#gw)" fill-opacity="0.35"/>
<ellipse cx="-58" cy="-16" rx="60" ry="30" fill="url(#gw)" fill-opacity="0.32"/>
<ellipse cx="40" cy="6" rx="45" ry="12" fill="url(#gw)" fill-opacity="0.13"/>
<ellipse cx="25" cy="1" rx="12" ry="5" fill="url(#gw)" fill-opacity="0.06"/>
<ellipse cx="-142" cy="-39" rx="15" ry="8" fill="url(#gw)" fill-opacity="0.1"/>
<ellipse cx="-143" cy="-66" rx="40" ry="12" fill="url(#gw)" fill-opacity="0.1"/>
<ellipse cx="0" cy="97" rx="220" ry="14" fill="url(#gk)" fill-opacity="0.2"/>
<ellipse cx="60" cy="62" rx="150" ry="25" fill="url(#gk)" fill-opacity="0.4"/>
<ellipse cx="12" cy="27" rx="80" ry="26" fill="url(#gk)" fill-opacity="0.72"/>
<ellipse cx="92" cy="33" rx="105" ry="36" fill="url(#gk)" fill-opacity="0.72"/>
<ellipse cx="70" cy="-50" rx="180" ry="68" fill="url(#gk)" fill-opacity="0.72"/>
<ellipse cx="85" cy="-19" rx="75" ry="12" fill="url(#gk)" fill-opacity="0.45"/>
<ellipse cx="108" cy="-48" rx="40" ry="10" fill="url(#gk)" fill-opacity="0.45"/>
<ellipse cx="-5" cy="-34" rx="15" ry="5" fill="url(#gk)" fill-opacity="0.65"/>
<ellipse cx="20" cy="-79" rx="30" ry="5" fill="url(#gk)" fill-opacity="0.68"/>
<ellipse cx="82" cy="-70" rx="28" ry="6" fill="url(#gk)" fill-opacity="0.5"/>
</g>
</g>
<g transform="scale(3.7014,-3.757)"><use xlink:href="#coast" href="#coast"/></g>
</g>
</g>
<rect x="77.5" y="1116" width="1332.5" height="657.5" fill="none" stroke="#000" stroke-width="3.33"/>
<use xlink:href="#cb24" href="#cb24" x="0" y="1815"/>
<g font-size="41.67" text-anchor="middle">
<text x="77.5" y="1943.5">0.0</text><text x="244.06" y="1943.5">7.5</text><text x="410.63" y="1943.5">15.0</text><text x="577.19" y="1943.5">22.5</text><text x="743.75" y="1943.5">30.0</text><text x="910.31" y="1943.5">37.5</text><text x="1076.88" y="1943.5">45.0</text><text x="1243.44" y="1943.5">52.5</text><text x="1410" y="1943.5">60.0</text>
</g>

<!-- ================= PANEL 3 ================= -->
<text x="743.75" y="2077.5" font-size="50" text-anchor="middle">Plasmasphere (h=1500.0 km), 2005-04-03 21:00 UT</text>
<g transform="translate(743.75,2429.75)">
<g clip-path="url(#mclip)">
<g transform="scale(3.7014,-3.757)">
<rect x="-190" y="-95" width="380" height="190" fill="#0000c8"/>
<polygon fill="#0040ff" points="-182,49.7 -158.1,47.9 -134.3,43.9 -122.5,41.6 -110.6,39.8 -98.7,38.7 -86.8,38.9 -74.9,39.8 -63,42.1 -48.7,45 -39.2,46.8 -15.4,47.3 1.2,47.9 20.2,50.2 55.9,54.9 79.7,57.8 103.5,60.4 122.5,60.4 139.1,58.3 151,56 162.9,52.6 182,50.2 182,-38.8 162.9,-36 146.3,-34.2 127.2,-36 103.5,-37.4 79.7,-39.4 55.9,-43.5 32.1,-45.8 8.3,-48.1 -15.4,-51 -39.2,-54.1 -63,-51.6 -86.8,-46.9 -96.3,-44.6 -105.8,-41.2 -120.1,-37.7 -134.3,-38.3 -158.1,-41.2 -182,-40.6"/>
<polygon fill="#00bfff" points="-182,39.8 -158.1,38.1 -134.3,36.9 -122.5,35.8 -110.6,34 -86.8,32.9 -63,32.9 -39.2,34 -25,36.4 -15.4,36.4 8.3,38.7 32.1,42.1 55.9,46.2 79.7,49.7 103.5,52.6 127.2,52 139.1,49.1 151,44.5 162.9,42.1 182,41 182,-30.7 162.9,-29.6 155.8,-24.4 146.3,-23.8 127.2,-26.1 103.5,-29 79.7,-33.1 55.9,-37.1 32.1,-40 8.3,-42.3 -10.7,-45.8 -25,-46.9 -34.5,-44.1 -44,-40 -58.2,-37.7 -74.9,-36.5 -86.8,-34.2 -98.7,-29 -110.6,-27.9 -134.3,-29.6 -158.1,-30.2 -182,-28.4"/>
<polygon fill="#48ffaf" points="-182,27.7 -158.1,27.1 -153.4,24.2 -150.5,19 -150.3,9.7 -150.3,-7.6 -147.4,-10 -142.7,-9 -141.5,-5 -141.5,9.7 -137.9,17.8 -132,21.3 -122.5,21.9 -98.7,21.5 -79.6,21.3 -63,19 -48.7,15.3 -39.2,14.9 -32.1,17.8 -25,23.6 -17.8,27.7 -8.3,30 8.3,32.3 32.1,35.2 55.9,38.4 79.7,42.1 103.5,43.9 117.7,41.6 124.9,37.5 132,31.7 141.5,25.9 151,19 158.2,10.9 164.1,7.4 167.7,9.7 168.9,19 172.4,24.2 182,25.9 182,-21.5 174.8,-20.3 165.3,-15.7 155.8,-11.7 146.3,-11.1 127.2,-14.5 103.5,-18 79.7,-22.1 55.9,-26.1 32.1,-29.6 8.3,-35.4 -15.4,-37.7 -34.5,-36.5 -41.6,-31.9 -46.4,-25 -63,-27.3 -77.3,-26.1 -82,-20.3 -89.2,-9.9 -98.7,-8.8 -110.6,-13.4 -122.5,-18.6 -134.3,-17.4 -143.9,-14 -162.9,-14 -182,-21"/>
<ellipse cx="-115.3" cy="0.7" rx="9.5" ry="9.6" fill="#afff48"/>
<polygon fill="#afff48" points="-39.2,-1.8 -29.7,2.8 -17.8,12.1 -10.7,17.8 -1.2,19 13.1,17.8 25,19.6 33.3,18.4 36.9,14.4 36.4,2.8 34.5,-9.9 29.7,-16.9 22.6,-18.6 16.7,-16.9 13.1,-11.1 8.3,-4.1 3.6,0 -3.6,0.5 -13.1,-0.7 -25,-4.1 -32.1,-5.9 -38,-5.3"/>
<polygon fill="#afff48" points="58.3,22.5 65.4,25 73.7,24.2 79.7,19 82.5,9.7 79.7,1.6 73.7,-1.2 69,0.5 63,7.4 58.3,15.5"/>
<use xlink:href="#coast" href="#coast"/>
</g>
</g>
</g>
<rect x="77.5" y="2101" width="1332.5" height="657.5" fill="none" stroke="#000" stroke-width="3.33"/>
<use xlink:href="#cb8" href="#cb8" x="0" y="2800"/>
<g font-size="41.67" text-anchor="middle">
<text x="77.5" y="2928.5">0.0</text><text x="244.06" y="2928.5">2.5</text><text x="410.63" y="2928.5">5.0</text><text x="577.19" y="2928.5">7.5</text><text x="743.75" y="2928.5">10.0</text><text x="910.31" y="2928.5">12.5</text><text x="1076.88" y="2928.5">15.0</text><text x="1243.44" y="2928.5">17.5</text><text x="1410" y="2928.5">20.0</text>
</g>
</svg>
</body>
</html>
